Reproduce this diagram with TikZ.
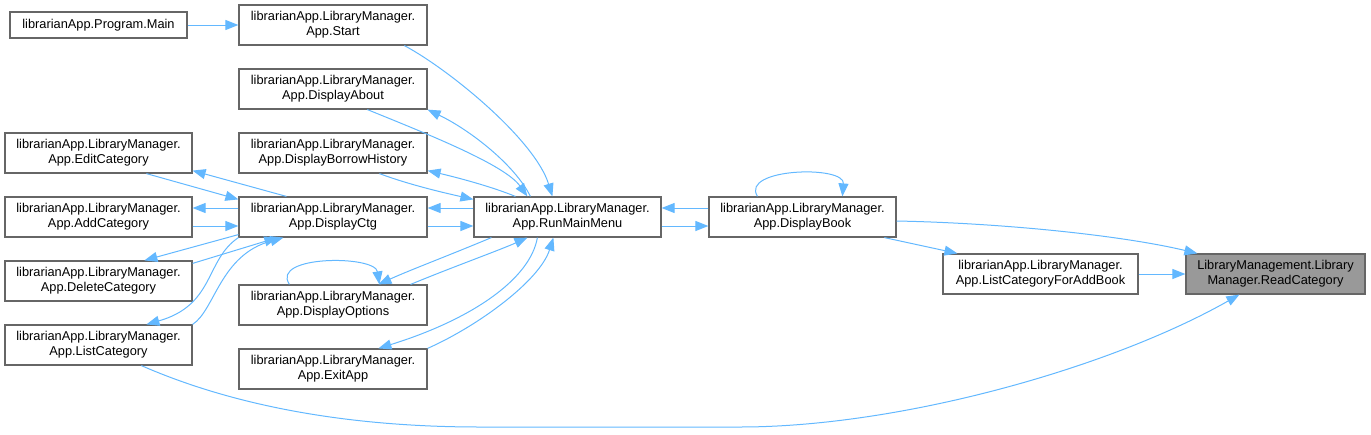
\documentclass[tikz,border=0pt]{standalone}
\usepackage{fontspec}
\setmainfont{Liberation Sans}
\usetikzlibrary{arrows.meta,calc}
\definecolor{edgec}{HTML}{63B8FF}
\definecolor{bord}{HTML}{666666}
\definecolor{hl}{HTML}{999999}
\tikzset{
  box/.style={draw=bord, line width=1.2pt, fill=white, inner sep=0pt, minimum width=188pt, minimum height=40pt, align=center, font=\fontsize{12.8}{15}\selectfont},
  hlbox/.style={box, fill=hl},
  ed/.style={draw=edgec, line width=1pt, -{Triangle[length=13pt,width=10pt]}},
}
\begin{document}
\begin{tikzpicture}[x=1pt,y=-1pt]
\useasboundingbox (0,0) rectangle (1371,434);
% nodes
\node[box, minimum width=177pt, minimum height=26pt] (main) at (98.5,25) {librarianApp.Program.Main};
\node[box] (start) at (333,25) {librarianApp.LibraryManager.\\App.Start};
\node[box] (about) at (333,89) {librarianApp.LibraryManager.\\App.DisplayAbout};
\node[box] (dbh) at (333,153) {librarianApp.LibraryManager.\\App.DisplayBorrowHistory};
\node[box] (ctg) at (333,217) {librarianApp.LibraryManager.\\App.DisplayCtg};
\node[box] (opt) at (333,305) {librarianApp.LibraryManager.\\App.DisplayOptions};
\node[box] (exit) at (333,369) {librarianApp.LibraryManager.\\App.ExitApp};
\node[box, minimum width=187pt] (edit) at (98.5,153) {librarianApp.LibraryManager.\\App.EditCategory};
\node[box, minimum width=187pt] (add) at (98.5,217) {librarianApp.LibraryManager.\\App.AddCategory};
\node[box, minimum width=187pt] (del) at (98.5,281) {librarianApp.LibraryManager.\\App.DeleteCategory};
\node[box, minimum width=187pt] (list) at (98.5,345) {librarianApp.LibraryManager.\\App.ListCategory};
\node[box, minimum width=187pt] (rmm) at (567.5,217) {librarianApp.LibraryManager.\\App.RunMainMenu};
\node[box, minimum width=187pt] (book) at (802.5,217) {librarianApp.LibraryManager.\\App.DisplayBook};
\node[box, minimum width=195pt] (lcf) at (1040.5,274) {librarianApp.LibraryManager.\\App.ListCategoryForAddBook};
\node[hlbox, minimum width=179pt] (rc) at (1275.5,274) {LibraryManagement.Library\\Manager.ReadCategory};
% edges
\draw[ed] (main.east) -- (start.west);
\draw[ed] ($(start.south west)+(166,0)$) .. controls (450,70) and (535,140) .. ($(rmm.north west)+(79,0)$);
\draw[ed] ($(about.south west)+(129,0)$) .. controls (430,135) and (505,165) .. ($(rmm.north west)+(54,0)$);
\draw[ed] ($(rmm.north west)+(57,0)$) .. controls (515,165) and (470,130) .. (about.south east);
\draw[ed] ($(rmm.north west)+(42,0)$) .. controls (490,186) and (455,177) .. ($(dbh.south east)+(0,-3)$);
\draw[ed] ($(dbh.south west)+(141,0)$) .. controls (410,185) and (445,193) .. ($(rmm.north west)+(0,3)$);
\draw[ed] ($(rmm.west)+(0,-9)$) -- ($(ctg.east)+(0,-9)$);
\draw[ed] ($(ctg.east)+(0,9)$) -- ($(rmm.west)+(0,9)$);
\draw[ed] ($(rmm.south west)+(18,0)$) .. controls (450,255) and (410,270) .. ($(opt.north west)+(140,0)$);
\draw[ed] ($(opt.north east)+(-17,0)$) .. controls (450,268) and (500,250) .. ($(rmm.south west)+(54,0)$);
\draw[ed] ($(rmm.south west)+(64,0)$) .. controls (530,280) and (470,320) .. ($(exit.north west)+(140,0)$);
\draw[ed] (exit.north east) .. controls (480,325) and (540,280) .. ($(rmm.south west)+(80,0)$);
\draw[ed] ($(opt.north west)+(51,0)$) .. controls (270,255) and (375,255) .. ($(opt.north west)+(141,0)$);
\draw[ed] ($(ctg.north west)+(48,0)$) -- ($(edit.south east)+(0,-3)$);
\draw[ed] ($(edit.south west)+(142,0)$) -- ($(ctg.north west)+(0,3)$);
\draw[ed] ($(ctg.west)+(0,-9)$) -- ($(add.east)+(0,-9)$);
\draw[ed] ($(add.east)+(0,9)$) -- ($(ctg.west)+(0,9)$);
\draw[ed] ($(ctg.south west)+(0,-3)$) -- ($(del.north west)+(140,0)$);
\draw[ed] ($(del.north east)+(0,3)$) -- ($(ctg.south west)+(39,0)$);
\draw[ed] (ctg.south west) .. controls (205,260) and (215,305) .. ($(list.north west)+(142,0)$);
\draw[ed] (list.north east) .. controls (215,310) and (220,255) .. ($(ctg.south west)+(45,0)$);
\draw[ed] ($(book.west)+(0,-9)$) -- ($(rmm.east)+(0,-9)$);
\draw[ed] ($(rmm.east)+(0,9)$) -- ($(book.west)+(0,9)$);
\draw[ed] ($(book.north west)+(49,0)$) .. controls (740,168) and (845,165) .. ($(book.north west)+(134,0)$);
\draw[ed] ($(book.east)+(0,4)$) .. controls (1000,223) and (1120,235) .. ($(rc.north west)+(12,0)$);
\draw[ed] ($(book.south west)+(176,0)$) -- ($(lcf.north west)+(15,0)$);
\draw[ed] (lcf.east) -- (rc.west);
\draw[ed] ($(list.south west)+(137,0)$) .. controls (220,400) and (330,427) .. (480,427) -- (740,427) .. controls (900,427) and (1110,368) .. ($(rc.south west)+(54,0)$);
\end{tikzpicture}
\end{document}
